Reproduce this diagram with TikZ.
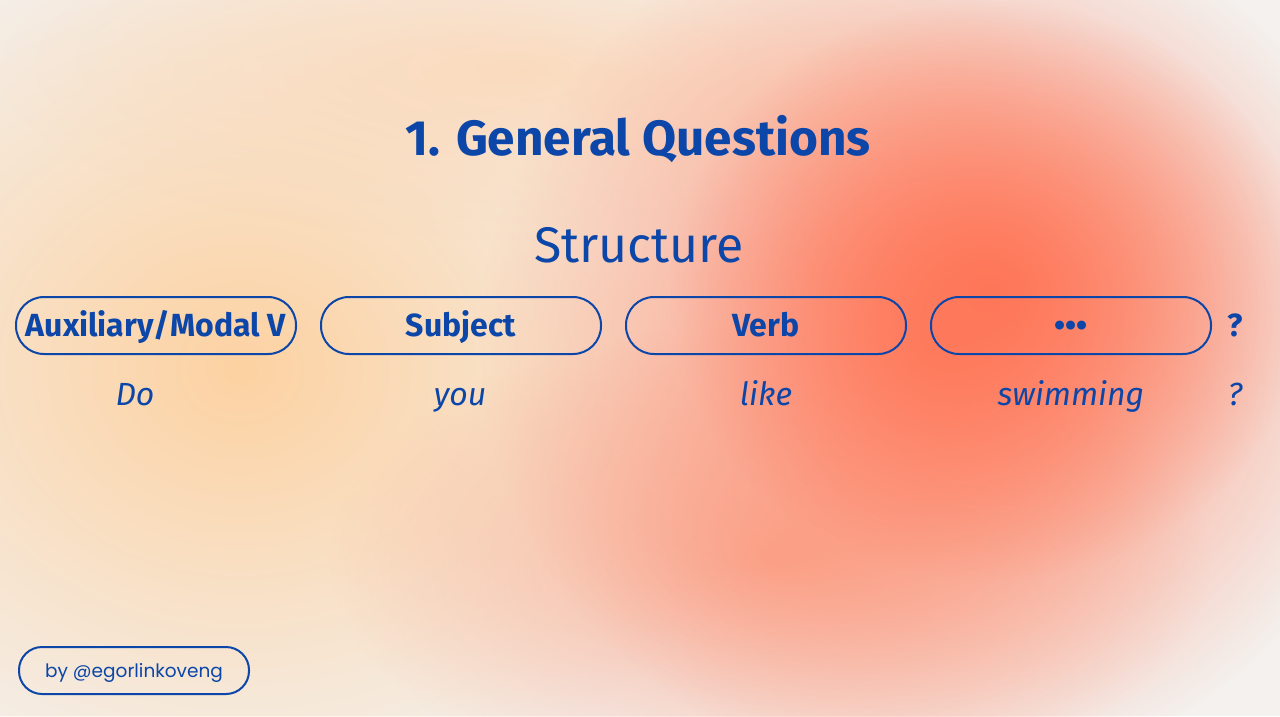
\documentclass[tikz,border=0pt]{standalone}
\usepackage{fontspec}
\setmainfont{Fira Sans}
\newfontfamily\popfont{Poppins}
\usetikzlibrary{fadings}
\definecolor{ink}{HTML}{0B46A8}
\definecolor{bgc}{HTML}{F4F1EE}
\definecolor{peach}{HTML}{FDD2A2}
\definecolor{peachtop}{HTML}{FCD8B8}
\definecolor{coral}{HTML}{FF8466}
\definecolor{coraldeep}{HTML}{FF7658}
\definecolor{pinkish}{HTML}{FBA68C}
\tikzfading[name=soft, inner color=transparent!0, outer color=transparent!100]
\tikzset{
  pill/.style={draw=ink, line width=2pt, rounded corners=28pt, minimum width=280pt, minimum height=57pt, inner sep=0pt, text=ink, text height=22pt, text depth=0pt, font=\fontsize{32}{36}\selectfont\bfseries},
  word/.style={text=ink, anchor=base, font=\fontsize{32}{36}\selectfont\itshape},
  blob/.style={path fading=soft}
}
\begin{document}
\begin{tikzpicture}[x=1pt,y=-1pt]
\useasboundingbox (0,0) rectangle (1280,716);
% background
\fill[bgc] (0,0) rectangle (1280,716);
\fill[peach, blob] (240,370) ellipse (540 and 460);
\fill[peachtop, blob, fill opacity=0.85] (520,70) ellipse (520 and 170);
\fill[pinkish, blob, fill opacity=0.85] (770,560) ellipse (440 and 240);
\fill[coral, blob] (940,340) ellipse (460 and 440);
\fill[coraldeep, blob] (990,290) ellipse (320 and 290);
% titles
\node[text=ink, anchor=base, font=\fontsize{49.5}{60}\selectfont\bfseries] (title) at (638,155) {1. General Questions};
\node[text=ink, anchor=base, font=\fontsize{50}{56}\selectfont] (structure) at (639,262) {Structure};
% boxes
\node[pill] (aux) at (156,325.5) {Auxiliary/Modal V};
\node[pill] (subj) at (461,325.5) {Subject};
\node[pill] (verb) at (766,325.5) {Verb};
\node[pill] (rest) at (1071,325.5) {•••};
\node[text=ink, text height=22pt, text depth=0pt, inner sep=0pt, font=\fontsize{32}{36}\selectfont\bfseries] (q1) at (1235,325.5) {?};
% example
\node[word] (do) at (135,405) {Do};
\node[word] (you) at (460,405) {you};
\node[word] (like) at (766,405) {like};
\node[word] (swim) at (1071,405) {swimming};
\node[word] (q2) at (1235,405) {?};
% footer
\node[draw=ink, line width=2pt, rounded corners=23pt, minimum width=230pt, minimum height=47pt, text height=13pt, text depth=0pt, text=ink, font=\popfont\fontsize{18.5}{22}\selectfont] (by) at (134,670.5) {by @egorlinkoveng};
\end{tikzpicture}
\end{document}
